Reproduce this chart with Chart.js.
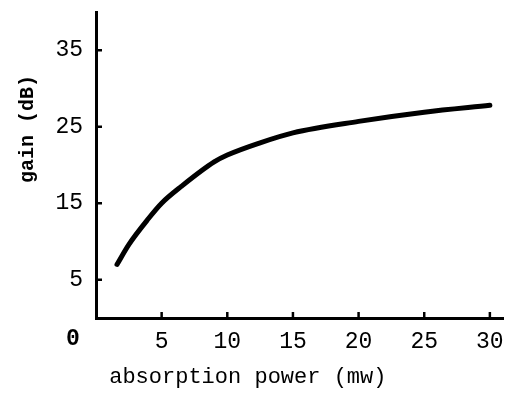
<!DOCTYPE html>
<html lang="en">
<head>
    <meta charset="UTF-8" />
    <title>gain vs absorption power</title>
    <script src="https://cdn.jsdelivr.net/npm/chart.js"></script>
    <style>
        html, body { margin: 0; padding: 0; background: #fff; }
        #wrap { width: 507px; height: 394px; }
    </style>
</head>
<body>
    <div id="wrap"><canvas id="grafico" width="507" height="394"></canvas></div>

    <script>
        // values
        const potencia = [1.6, 2.5, 4, 5, 6.5, 9, 10, 12.5, 15, 20, 25, 30];
        const ganho = [7.0, 9.6, 13.0, 15.0, 17.2, 20.4, 21.3, 22.9, 24.2, 25.7, 26.9, 27.8];
        const ticksX = [5, 10, 15, 20, 25, 30];
        const ticksY = [5, 15, 25, 35];

        const fonteNum = { family: "'Liberation Mono', monospace", size: 23 };

        // small inward tick marks + the lone "0" at the corner
        const marcas = {
            id: 'marcas',
            afterDraw(chart) {
                const ctx = chart.ctx;
                const x = chart.scales.x, y = chart.scales.y;
                const x0 = x.getPixelForValue(0), y0 = y.getPixelForValue(0);
                ctx.save();
                ctx.strokeStyle = '#000';
                ctx.lineWidth = 2.5;
                ticksX.forEach(v => {
                    const px = x.getPixelForValue(v);
                    ctx.beginPath(); ctx.moveTo(px, y0); ctx.lineTo(px, y0 - 6); ctx.stroke();
                });
                ticksY.forEach(v => {
                    const py = y.getPixelForValue(v);
                    ctx.beginPath(); ctx.moveTo(x0, py); ctx.lineTo(x0 + 6, py); ctx.stroke();
                });
                ctx.fillStyle = '#000';
                ctx.font = "bold 23px 'Liberation Mono', monospace";
                ctx.textAlign = 'center';
                ctx.textBaseline = 'middle';
                ctx.fillText('0', x0 - 23, y0 + 21);
                ctx.restore();
            }
        };

        new Chart(document.getElementById('grafico'), {
            type: 'line',
            data: {
                datasets: [{
                    data: potencia.map((p, i) => ({ x: p, y: ganho[i] })),
                    borderColor: '#000',
                    borderWidth: 5,
                    borderCapStyle: 'round',
                    pointRadius: 0,
                    cubicInterpolationMode: 'monotone',
                    fill: false
                }]
            },
            options: {
                responsive: false,
                animation: false,
                layout: { padding: { top: 12, right: 4, left: 0, bottom: 0 } },
                plugins: { legend: { display: false }, tooltip: { enabled: false } },
                scales: {
                    x: {
                        type: 'linear',
                        min: 0,
                        max: 31,
                        afterBuildTicks: s => { s.ticks = ticksX.map(v => ({ value: v })); },
                        afterFit: s => { s.height = 76; s.paddingLeft = 0; s.paddingRight = 0; },
                        grid: { display: false, drawTicks: false },
                        border: { color: '#000', width: 3 },
                        ticks: { color: '#000', font: fonteNum, padding: 10 },
                        title: {
                            display: true,
                            align: 'start',
                            text: ' absorption power (mw)',
                            color: '#000',
                            font: { family: "'Liberation Mono', monospace", size: 22 },
                            padding: { top: 4 }
                        }
                    },
                    y: {
                        min: 0,
                        max: 40,
                        afterBuildTicks: s => { s.ticks = ticksY.map(v => ({ value: v })); },
                        afterFit: s => { s.width = 96; s.paddingTop = 0; s.paddingBottom = 0; },
                        grid: { display: false, drawTicks: false },
                        border: { color: '#000', width: 3 },
                        ticks: { color: '#000', font: fonteNum, padding: 13 },
                        title: {
                            display: true,
                            // leading spaces lift the rotated title like in the original
                            text: '      gain (dB)',
                            color: '#000',
                            font: { family: "'Liberation Mono', monospace", size: 20, weight: 'bold' },
                            padding: { top: 16, bottom: 0 }
                        }
                    }
                }
            },
            plugins: [marcas]
        });
    </script>
</body>
</html>
